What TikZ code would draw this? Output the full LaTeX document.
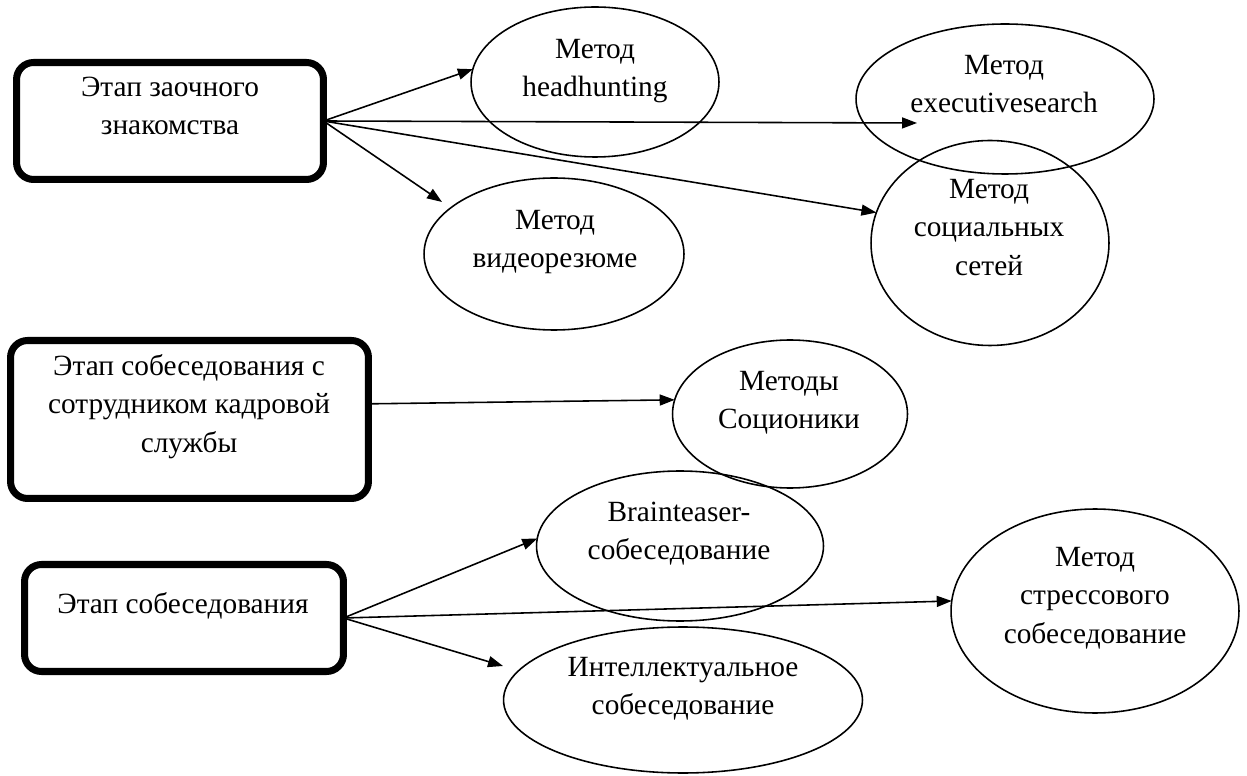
\documentclass[tikz,border=0pt]{standalone}
\usepackage{fontspec}
\setmainfont{Liberation Serif}
\usepackage{tikz}
\usetikzlibrary{shapes.geometric,arrows.meta}

\begin{document}
\begin{tikzpicture}[x=0.02cm,y=-0.02cm,
		stage/.style={rectangle,draw,line width=4pt,rounded corners=0.34cm,inner sep=0pt,outer sep=0pt},
		meth/.style={ellipse,draw,line width=0.9pt,inner sep=0pt,outer sep=0pt},
		txt/.style={anchor=north,align=center,inner sep=0pt,font=\fontsize{16.7pt}{21.9pt}\selectfont},
		arr/.style={line width=0.9pt,-{Triangle[length=0.3cm,width=0.22cm]}}]
			
			\useasboundingbox (0,0) rectangle (1247,776);
			
			\node[stage,minimum width=6.14cm,minimum height=2.34cm] (s1) at (170,121) {};
			\node[stage,minimum width=7.16cm,minimum height=3.16cm] (s2) at (189.5,419.5) {};
			\node[stage,minimum width=6.38cm,minimum height=2.14cm] (s3) at (184,618) {};
			
			\node[meth,minimum width=4.96cm,minimum height=3.0cm] (m1) at (595,82) {};
			\node[meth,minimum width=5.96cm,minimum height=3.0cm] (m2) at (1005,99) {};
			\node[meth,minimum width=5.2cm,minimum height=3.04cm] (m3) at (554,254) {};
			\node[meth,minimum width=4.76cm,minimum height=4.1cm] (m4) at (990,243) {};
			\node[meth,minimum width=4.7cm,minimum height=2.96cm] (m5) at (790,414) {};
			\node[meth,minimum width=5.74cm,minimum height=3.0cm] (m6) at (680,546) {};
			\node[meth,minimum width=7.18cm,minimum height=2.92cm] (m7) at (683,700) {};
			\node[meth,minimum width=5.76cm,minimum height=4.08cm] (m8) at (1095,611) {};
			
			\node[txt] (s1t) at (170,69) {\strut Этап заочного\\знакомства};
			\node[txt] (s2t) at (189,348) {\strut Этап собеседования с\\сотрудником кадровой\\службы};
			\node[txt] (s3t) at (183,586) {\strut Этап собеседования};
			
			\node[txt] (m1t) at (595,31) {\strut Метод\\headhunting};
			\node[txt] (m2t) at (1004,47) {\strut Метод\\executivesearch};
			\node[txt] (m3t) at (555,202) {\strut Метод\\видеорезюме};
			\node[txt] (m4t) at (989,171) {\strut Метод\\социальных\\сетей};
			\node[txt] (m5t) at (789,363) {\strut Методы\\Соционики};
			\node[txt] (m6t) at (679,494) {\strut Brainteaser-\\собеседование};
			\node[txt] (m7t) at (683,649) {\strut Интеллектуальное\\собеседование};
			\node[txt] (m8t) at (1095,539) {\strut Метод\\стрессового\\собеседование};
			
			\coordinate (t2) at (917,123);
			\coordinate (t3) at (442,202);
			\coordinate (t7) at (503,666);
			
			\draw[arr] (s1.east) -- (m1.174);
			\draw[arr] (s1.east) -- (t2);
			\draw[arr] (s1.east) -- (m4.165);
			\draw[arr] (s1.east) -- (t3);
			\draw[arr] (s2.5) -- (m5.173);
			\draw[arr] (s3.east) -- (m6.177);
			\draw[arr] (s3.east) -- (m8.176);
			\draw[arr] (s3.east) -- (t7);
			
		\end{tikzpicture}
\end{document}
